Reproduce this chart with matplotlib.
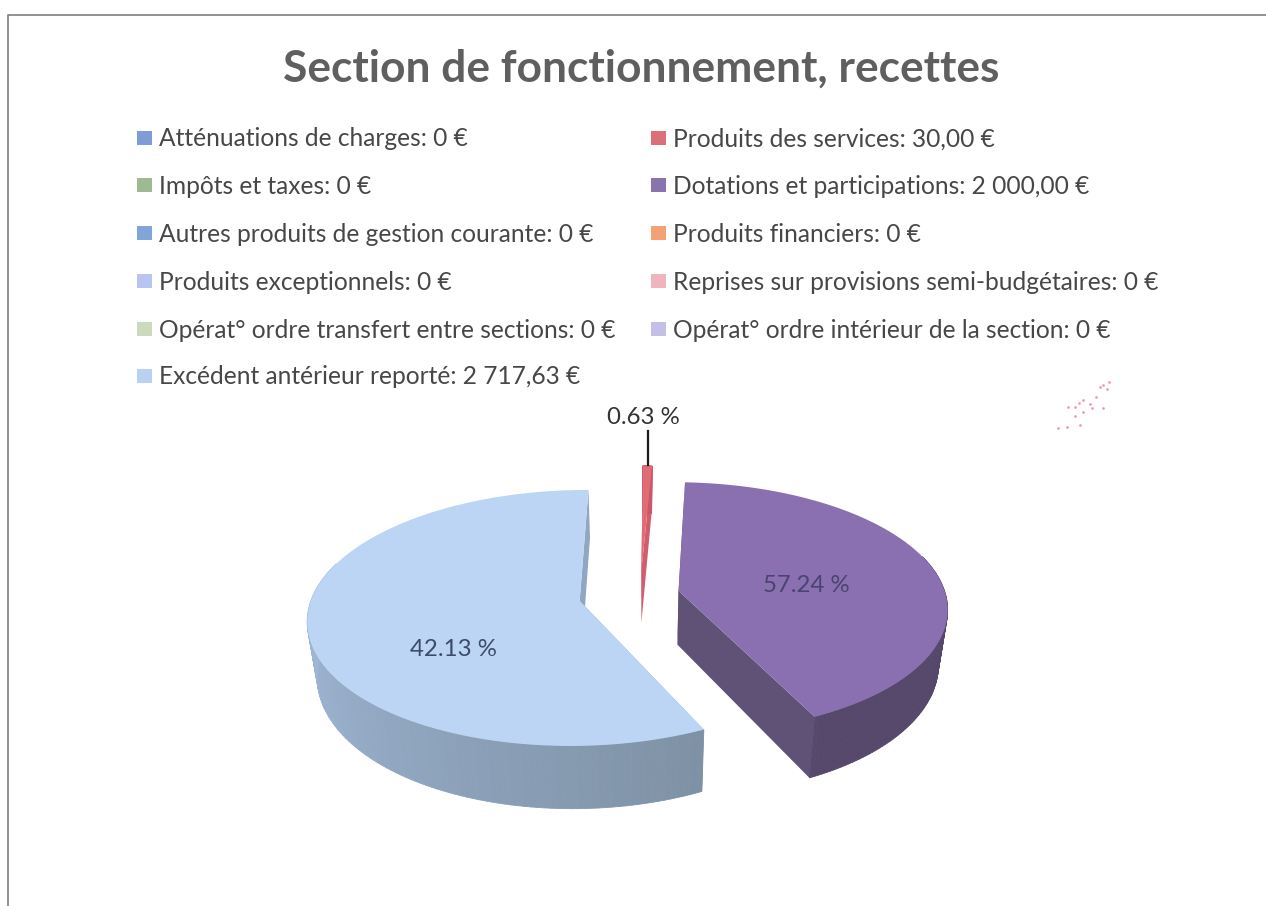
import numpy as np
import matplotlib
matplotlib.use("Agg")
import matplotlib.pyplot as plt
from matplotlib.collections import PolyCollection
from matplotlib.colors import to_rgb
from matplotlib.patches import Polygon, Rectangle

plt.rcParams['font.family'] = ['Lato', 'DejaVu Sans']

title = "Section de fonctionnement, recettes"
categories = ["Atténuations de charges", "Produits des services", "Impôts et taxes",
              "Dotations et participations", "Autres produits de gestion courante",
              "Produits financiers", "Produits exceptionnels",
              "Reprises sur provisions semi-budgétaires",
              "Opérat° ordre transfert entre sections", "Opérat° ordre intérieur de la section",
              "Excédent antérieur reporté"]
amount_labels = ["0 €", "30,00 €", "0 €", "2 000,00 €", "0 €", "0 €", "0 €", "0 €", "0 €", "0 €", "2 717,63 €"]
values = [0, 30.00, 0, 2000.00, 0, 0, 0, 0, 0, 0, 2717.63]
legend_colors = ["#7f9bd8", "#dc6f78", "#9dba92", "#8a74ae", "#7fa6d6", "#f2a274",
                 "#b9c4f2", "#f0b4bd", "#ccd9bc", "#c4bfe6", "#b8d2f2"]
explode = [0, 0.20, 0, 0.148, 0, 0, 0, 0, 0, 0, 0.23]
wall_dark = ["#000000", "#c9586a", "#000000", "#55486b", "#000000", "#000000",
             "#000000", "#000000", "#000000", "#000000", "#7d90a3"]
wall_light = ["#000000", "#d9646d", "#000000", "#6a5c80", "#000000", "#000000",
              "#000000", "#000000", "#000000", "#000000", "#a4bcdc"]
top_colors = ["#000000", "#e06c74", "#000000", "#8a70b0", "#000000", "#000000",
              "#000000", "#000000", "#000000", "#000000", "#bcd5f5"]
# printed as in the picture, not swapped to match the slices
pct_labels = {1: "0.63 %", 3: "57.24 %", 10: "42.13 %"}
pct_pos = {1: (643, 417), 3: (806, 586), 10: (453, 649)}
pct_colors = {1: "#333333", 3: "#4a4470", 10: "#3c4c68"}
speck_x = [1106.7, 1103.3, 1095.7, 1082.7, 1079, 1090, 1102.7, 1083.3, 1091.7, 1075, 1068.3,
           1080, 1075, 1066.7, 1058.3, 1100, 1109]
speck_y = [389.3, 385, 397.3, 400, 403.3, 404.3, 407.7, 411.7, 408.3, 406.7, 407.3,
           425, 415.7, 427.3, 428.3, 386.7, 382.3]

# pseudo 3d camera
xc, yc, rx, ry, k = 640, 594.5, 267, 124, 0.133
depth, shrink = 54, 0.97
start_angle = np.radians(0.4)


def project(u, v):
    w = 1 + k * v
    return xc + rx * u / w, yc - ry * v / w


def project_bottom(u, v):
    x, y = project(u, v)
    return xc + (x - xc) * shrink, y + depth / (1 + k * v)


def mix(c1, c2, t):
    return tuple(np.array(to_rgb(c1)) * (1 - t) + np.array(to_rgb(c2)) * t)


fig = plt.figure(figsize=(12.66, 9.06), dpi=100)
ax = fig.add_axes([0, 0, 1, 1])
ax.set_xlim(0, 1266)
ax.set_ylim(906, 0)
ax.axis("off")

ax.plot([8, 8, 1266], [906, 15, 15], color="#7f7f7f", lw=1.2)
ax.text(641, 69, title, ha="center", va="center", fontsize=31.9, fontweight="bold", color="#5f5f5f")

for i, (cat, amount) in enumerate(zip(categories, amount_labels)):
    col, row = i % 2, i // 2
    x = [137, 651][col]
    y = [138, 185, 233, 281, 329, 376][row]
    ax.add_patch(Rectangle((x, y - 7), 15, 14, color=legend_colors[i], lw=0))
    ax.text(x + 22, y + 1, f"{cat}: {amount}", va="center", fontsize=17.65, color="#474747")

total = sum(values)
theta = start_angle
for i, val in enumerate(values):
    if val == 0:
        continue
    sweep = val / total * 2 * np.pi
    mid = theta + sweep / 2
    ou, ov = explode[i] * np.sin(mid), explode[i] * np.cos(mid)
    angs = np.linspace(theta, theta + sweep, 160)
    us, vs = ou + np.sin(angs), ov + np.cos(angs)

    # cut walls
    for end in (0, -1):
        p = (us[end], vs[end])
        ax.add_patch(Polygon([project(ou, ov), project(*p), project_bottom(*p), project_bottom(ou, ov)],
                             color=mix(wall_dark[i], wall_light[i], 0.5), lw=0, zorder=2))

    # outer wall, split in strips for the shading; the far side of big slices stays hidden
    quads, cols = [], []
    for j in range(len(angs) - 1):
        if sweep > 0.5 and np.cos(angs[j]) > 0.3:
            continue
        a, b = (us[j], vs[j]), (us[j + 1], vs[j + 1])
        quads.append([project(*a), project(*b), project_bottom(*b), project_bottom(*a)])
        cols.append(mix(wall_dark[i], wall_light[i], min(1, max(0, (np.degrees(angs[j]) - 150) / 130))))
    ax.add_collection(PolyCollection(quads, facecolors=cols, edgecolors=cols, linewidths=0.6, zorder=2))

    # top face
    pts = [project(ou, ov)] + [project(u, v) for u, v in zip(us, vs)]
    ax.add_patch(Polygon(pts, color=top_colors[i], lw=0, zorder=3))
    ax.text(*pct_pos[i], pct_labels[i], ha="center", va="center", fontsize=17.3, color=pct_colors[i], zorder=5)
    theta += sweep

# leader of the small slice
ax.plot([648, 648], [431, 465], color="#1a1a1a", lw=1.6, zorder=4)
ax.scatter(speck_x, speck_y, s=4, color="#e07a90", alpha=0.7, lw=0)

fig.savefig("out.png", dpi=100)
